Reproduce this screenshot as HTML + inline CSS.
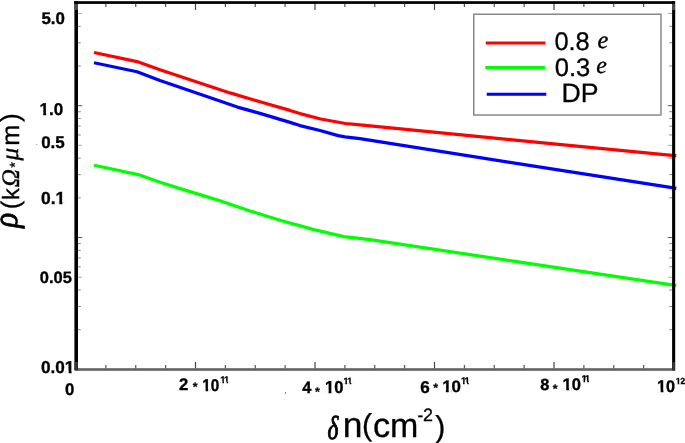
<!DOCTYPE html>
<html><head><meta charset="utf-8">
<style>
html,body{margin:0;padding:0;background:#fff;overflow:hidden;}
svg{display:block;}
text{text-rendering:geometricPrecision;}
</style></head>
<body>
<svg width="685" height="443" viewBox="0 0 685 443">
<rect x="0" y="0" width="685" height="443" fill="#fff"/>
<line x1="105.88" y1="3.5" x2="105.88" y2="7" stroke="#555" stroke-width="1.2"/>
<line x1="105.88" y1="368.5" x2="105.88" y2="365" stroke="#555" stroke-width="1.2"/>
<line x1="135.75" y1="3.5" x2="135.75" y2="7" stroke="#555" stroke-width="1.2"/>
<line x1="135.75" y1="368.5" x2="135.75" y2="365" stroke="#555" stroke-width="1.2"/>
<line x1="165.62" y1="3.5" x2="165.62" y2="7" stroke="#555" stroke-width="1.2"/>
<line x1="165.62" y1="368.5" x2="165.62" y2="365" stroke="#555" stroke-width="1.2"/>
<line x1="195.50" y1="3.5" x2="195.50" y2="10" stroke="#444" stroke-width="1.2"/>
<line x1="195.50" y1="368.5" x2="195.50" y2="362" stroke="#444" stroke-width="1.2"/>
<line x1="225.38" y1="3.5" x2="225.38" y2="7" stroke="#555" stroke-width="1.2"/>
<line x1="225.38" y1="368.5" x2="225.38" y2="365" stroke="#555" stroke-width="1.2"/>
<line x1="255.25" y1="3.5" x2="255.25" y2="7" stroke="#555" stroke-width="1.2"/>
<line x1="255.25" y1="368.5" x2="255.25" y2="365" stroke="#555" stroke-width="1.2"/>
<line x1="285.12" y1="3.5" x2="285.12" y2="7" stroke="#555" stroke-width="1.2"/>
<line x1="285.12" y1="368.5" x2="285.12" y2="365" stroke="#555" stroke-width="1.2"/>
<line x1="315.00" y1="3.5" x2="315.00" y2="10" stroke="#444" stroke-width="1.2"/>
<line x1="315.00" y1="368.5" x2="315.00" y2="362" stroke="#444" stroke-width="1.2"/>
<line x1="344.88" y1="3.5" x2="344.88" y2="7" stroke="#555" stroke-width="1.2"/>
<line x1="344.88" y1="368.5" x2="344.88" y2="365" stroke="#555" stroke-width="1.2"/>
<line x1="374.75" y1="3.5" x2="374.75" y2="7" stroke="#555" stroke-width="1.2"/>
<line x1="374.75" y1="368.5" x2="374.75" y2="365" stroke="#555" stroke-width="1.2"/>
<line x1="404.62" y1="3.5" x2="404.62" y2="7" stroke="#555" stroke-width="1.2"/>
<line x1="404.62" y1="368.5" x2="404.62" y2="365" stroke="#555" stroke-width="1.2"/>
<line x1="434.50" y1="3.5" x2="434.50" y2="10" stroke="#444" stroke-width="1.2"/>
<line x1="434.50" y1="368.5" x2="434.50" y2="362" stroke="#444" stroke-width="1.2"/>
<line x1="464.38" y1="3.5" x2="464.38" y2="7" stroke="#555" stroke-width="1.2"/>
<line x1="464.38" y1="368.5" x2="464.38" y2="365" stroke="#555" stroke-width="1.2"/>
<line x1="494.25" y1="3.5" x2="494.25" y2="7" stroke="#555" stroke-width="1.2"/>
<line x1="494.25" y1="368.5" x2="494.25" y2="365" stroke="#555" stroke-width="1.2"/>
<line x1="524.12" y1="3.5" x2="524.12" y2="7" stroke="#555" stroke-width="1.2"/>
<line x1="524.12" y1="368.5" x2="524.12" y2="365" stroke="#555" stroke-width="1.2"/>
<line x1="554.00" y1="3.5" x2="554.00" y2="10" stroke="#444" stroke-width="1.2"/>
<line x1="554.00" y1="368.5" x2="554.00" y2="362" stroke="#444" stroke-width="1.2"/>
<line x1="583.88" y1="3.5" x2="583.88" y2="7" stroke="#555" stroke-width="1.2"/>
<line x1="583.88" y1="368.5" x2="583.88" y2="365" stroke="#555" stroke-width="1.2"/>
<line x1="613.75" y1="3.5" x2="613.75" y2="7" stroke="#555" stroke-width="1.2"/>
<line x1="613.75" y1="368.5" x2="613.75" y2="365" stroke="#555" stroke-width="1.2"/>
<line x1="643.62" y1="3.5" x2="643.62" y2="7" stroke="#555" stroke-width="1.2"/>
<line x1="643.62" y1="368.5" x2="643.62" y2="365" stroke="#555" stroke-width="1.2"/>
<line x1="78" y1="329.71" x2="80.8" y2="329.71" stroke="#888" stroke-width="1"/>
<line x1="672" y1="329.71" x2="669.2" y2="329.71" stroke="#888" stroke-width="1"/>
<line x1="78" y1="306.49" x2="80.8" y2="306.49" stroke="#888" stroke-width="1"/>
<line x1="672" y1="306.49" x2="669.2" y2="306.49" stroke="#888" stroke-width="1"/>
<line x1="78" y1="290.02" x2="80.8" y2="290.02" stroke="#888" stroke-width="1"/>
<line x1="672" y1="290.02" x2="669.2" y2="290.02" stroke="#888" stroke-width="1"/>
<line x1="78" y1="277.24" x2="82.0" y2="277.24" stroke="#aaa" stroke-width="1"/>
<line x1="672" y1="277.24" x2="668.0" y2="277.24" stroke="#aaa" stroke-width="1"/>
<line x1="78" y1="266.80" x2="80.8" y2="266.80" stroke="#888" stroke-width="1"/>
<line x1="672" y1="266.80" x2="669.2" y2="266.80" stroke="#888" stroke-width="1"/>
<line x1="78" y1="257.97" x2="80.8" y2="257.97" stroke="#888" stroke-width="1"/>
<line x1="672" y1="257.97" x2="669.2" y2="257.97" stroke="#888" stroke-width="1"/>
<line x1="78" y1="250.33" x2="80.8" y2="250.33" stroke="#888" stroke-width="1"/>
<line x1="672" y1="250.33" x2="669.2" y2="250.33" stroke="#888" stroke-width="1"/>
<line x1="78" y1="243.58" x2="80.8" y2="243.58" stroke="#888" stroke-width="1"/>
<line x1="672" y1="243.58" x2="669.2" y2="243.58" stroke="#888" stroke-width="1"/>
<line x1="78" y1="237.55" x2="82.2" y2="237.55" stroke="#555" stroke-width="1"/>
<line x1="672" y1="237.55" x2="667.8" y2="237.55" stroke="#555" stroke-width="1"/>
<line x1="78" y1="197.86" x2="80.8" y2="197.86" stroke="#888" stroke-width="1"/>
<line x1="672" y1="197.86" x2="669.2" y2="197.86" stroke="#888" stroke-width="1"/>
<line x1="78" y1="174.64" x2="80.8" y2="174.64" stroke="#888" stroke-width="1"/>
<line x1="672" y1="174.64" x2="669.2" y2="174.64" stroke="#888" stroke-width="1"/>
<line x1="78" y1="158.17" x2="80.8" y2="158.17" stroke="#888" stroke-width="1"/>
<line x1="672" y1="158.17" x2="669.2" y2="158.17" stroke="#888" stroke-width="1"/>
<line x1="78" y1="145.39" x2="82.0" y2="145.39" stroke="#aaa" stroke-width="1"/>
<line x1="672" y1="145.39" x2="668.0" y2="145.39" stroke="#aaa" stroke-width="1"/>
<line x1="78" y1="134.95" x2="80.8" y2="134.95" stroke="#888" stroke-width="1"/>
<line x1="672" y1="134.95" x2="669.2" y2="134.95" stroke="#888" stroke-width="1"/>
<line x1="78" y1="126.12" x2="80.8" y2="126.12" stroke="#888" stroke-width="1"/>
<line x1="672" y1="126.12" x2="669.2" y2="126.12" stroke="#888" stroke-width="1"/>
<line x1="78" y1="118.48" x2="80.8" y2="118.48" stroke="#888" stroke-width="1"/>
<line x1="672" y1="118.48" x2="669.2" y2="118.48" stroke="#888" stroke-width="1"/>
<line x1="78" y1="111.73" x2="80.8" y2="111.73" stroke="#888" stroke-width="1"/>
<line x1="672" y1="111.73" x2="669.2" y2="111.73" stroke="#888" stroke-width="1"/>
<line x1="78" y1="105.70" x2="82.2" y2="105.70" stroke="#555" stroke-width="1"/>
<line x1="672" y1="105.70" x2="667.8" y2="105.70" stroke="#555" stroke-width="1"/>
<line x1="78" y1="66.01" x2="80.8" y2="66.01" stroke="#888" stroke-width="1"/>
<line x1="672" y1="66.01" x2="669.2" y2="66.01" stroke="#888" stroke-width="1"/>
<line x1="78" y1="42.79" x2="80.8" y2="42.79" stroke="#888" stroke-width="1"/>
<line x1="672" y1="42.79" x2="669.2" y2="42.79" stroke="#888" stroke-width="1"/>
<line x1="78" y1="26.32" x2="80.8" y2="26.32" stroke="#888" stroke-width="1"/>
<line x1="672" y1="26.32" x2="669.2" y2="26.32" stroke="#888" stroke-width="1"/>
<line x1="78" y1="13.54" x2="82.0" y2="13.54" stroke="#aaa" stroke-width="1"/>
<line x1="672" y1="13.54" x2="668.0" y2="13.54" stroke="#aaa" stroke-width="1"/>
<polyline points="94,52.5 137,61.6 160,69.8 230,92.9 260,101.8 290,110.4 300,113.6 320.7,119 345.5,123.5 355,124.4 510,139.7 672,155.3 676.3,155.7" fill="none" stroke="#ff0000" stroke-width="3.2" stroke-linejoin="round" stroke-linecap="butt"/>
<polyline points="94,62.8 137,71.8 160,80.5 237.4,107.1 260,113.4 290,122.4 300,125.6 320,130.5 338.2,135.6 345,136.8 360,138.7 510,162.4 672,187.7 676.3,188.4" fill="none" stroke="#0000ff" stroke-width="3.2" stroke-linejoin="round" stroke-linecap="butt"/>
<polyline points="94.1,165.2 138.2,174.6 160,182.3 190,191.6 220,200.8 250,210.9 280,220.3 314,229.6 343.8,236.6 355,237.8 370,239.6 510,260.6 580,271.2 640,280.1 672,284.9 676.3,285.5" fill="none" stroke="#00ff00" stroke-width="3.2" stroke-linejoin="round" stroke-linecap="butt"/>
<rect x="78" y="368.2" width="594" height="2.6" fill="#626262"/>
<rect x="74" y="1.2" width="601" height="2.7" fill="#000"/>
<rect x="74.4" y="1.2" width="3.6" height="369.4" fill="#000"/>
<rect x="672.1" y="1.2" width="3.1" height="369.5" fill="#000"/>
<rect x="74.4" y="3.9" width="3.6" height="6" fill="#4a4a4a"/>
<rect x="672" y="4" width="3" height="6" fill="#4a4a4a"/>
<rect x="74.5" y="362" width="3.2" height="8" fill="#3a3a3a"/>
<rect x="672.4" y="362" width="2.4" height="8" fill="#3a3a3a"/>

<rect x="473.75" y="14.25" width="187.25" height="100.75" fill="none" stroke="#888" stroke-width="1.5"/>
<ellipse cx="285.5" cy="393.1" rx="0.6" ry="1" fill="#777"/>
<ellipse cx="36.6" cy="144.5" rx="0.9" ry="0.5" fill="#aaa"/>
<line x1="485.8" y1="42.9" x2="545.4" y2="42.9" stroke="#ff0000" stroke-width="3"/>
<line x1="485.3" y1="67.6" x2="544.9" y2="67.6" stroke="#00ff00" stroke-width="3"/>
<line x1="486.7" y1="94.2" x2="546.3" y2="94.2" stroke="#0000ff" stroke-width="3"/>
<g style="filter:grayscale(1)">
<g transform="translate(41.38,24.24)"><text style="font-family:'Liberation Sans',sans-serif;font-weight:bold;font-style:normal;font-size:16.89px" fill="#000" stroke="#000" stroke-width="0.35">5.0</text></g>
<g transform="translate(39.53,114.73)"><text style="font-family:'Liberation Sans',sans-serif;font-weight:bold;font-style:normal;font-size:17.05px" fill="#000" stroke="#000" stroke-width="0.35">1.0</text><rect x="0.42" y="-2.16" width="3.29" height="3.36" fill="#fff"/><rect x="6.62" y="-2.16" width="2.83" height="3.36" fill="#fff"/></g>
<g transform="translate(41.13,148.33)"><text style="font-family:'Liberation Sans',sans-serif;font-weight:bold;font-style:normal;font-size:16.94px" fill="#000" stroke="#000" stroke-width="0.35">0.5</text></g>
<g transform="translate(41.01,204.33)"><text style="font-family:'Liberation Sans',sans-serif;font-weight:bold;font-style:normal;font-size:17.43px" fill="#000" stroke="#000" stroke-width="0.35">0.1</text><rect x="14.96" y="-2.21" width="3.36" height="3.41" fill="#fff"/><rect x="21.30" y="-2.21" width="2.89" height="3.41" fill="#fff"/></g>
<g transform="translate(39.75,283.34)"><text style="font-family:'Liberation Sans',sans-serif;font-weight:bold;font-style:normal;font-size:16.49px" fill="#000" stroke="#000" stroke-width="0.35">0.05</text></g>
<g transform="translate(41.02,372.73)"><text style="font-family:'Liberation Sans',sans-serif;font-weight:bold;font-style:normal;font-size:17.17px" fill="#000" stroke="#000" stroke-width="0.35">0.01</text><rect x="24.29" y="-2.18" width="3.31" height="3.38" fill="#fff"/><rect x="30.54" y="-2.18" width="2.85" height="3.38" fill="#fff"/></g>
<g transform="translate(65.04,395.14)"><text style="font-family:'Liberation Sans',sans-serif;font-weight:bold;font-style:normal;font-size:16.78px" fill="#000" stroke="#000" stroke-width="0.35">0</text></g>
<g transform="translate(179.12,389.60)"><text style="font-family:'Liberation Sans',sans-serif;font-weight:bold;font-style:normal;font-size:16.72px" fill="#000" stroke="#000" stroke-width="0.35">2</text></g>
<g transform="translate(192.81,391.07)"><text style="font-family:'Liberation Sans',sans-serif;font-weight:bold;font-style:normal;font-size:12.41px" fill="#000" stroke="#000" stroke-width="0.25">*</text></g>
<g transform="translate(202.26,390.73) scale(0.893,1)"><text style="font-family:'Liberation Sans',sans-serif;font-weight:bold;font-style:normal;font-size:17.09px" fill="#000" stroke="#000" stroke-width="0.39">10</text><rect x="0.42" y="-2.17" width="3.30" height="3.37" fill="#fff"/><rect x="6.63" y="-2.17" width="2.84" height="3.37" fill="#fff"/></g>
<g transform="translate(220.35,382.80)"><text style="font-family:'Liberation Sans',sans-serif;font-weight:bold;font-style:normal;font-size:9.45px;letter-spacing:-1.11px" fill="#000" stroke="#000" stroke-width="0.30">11</text><rect x="0.23" y="-1.20" width="1.82" height="2.40" fill="#fff"/><rect x="3.67" y="-1.20" width="1.57" height="2.40" fill="#fff"/><rect x="4.38" y="-1.20" width="1.82" height="2.40" fill="#fff"/><rect x="7.81" y="-1.20" width="1.57" height="2.40" fill="#fff"/></g>
<g transform="translate(302.15,393.10)"><text style="font-family:'Liberation Sans',sans-serif;font-weight:bold;font-style:normal;font-size:16.38px" fill="#000" stroke="#000" stroke-width="0.35">4</text></g>
<g transform="translate(315.01,395.77)"><text style="font-family:'Liberation Sans',sans-serif;font-weight:bold;font-style:normal;font-size:12.41px" fill="#000" stroke="#000" stroke-width="0.25">*</text></g>
<g transform="translate(324.97,392.63) scale(0.953,1)"><text style="font-family:'Liberation Sans',sans-serif;font-weight:bold;font-style:normal;font-size:17.37px" fill="#000" stroke="#000" stroke-width="0.37">10</text><rect x="0.42" y="-2.21" width="3.35" height="3.41" fill="#fff"/><rect x="6.74" y="-2.21" width="2.88" height="3.41" fill="#fff"/></g>
<g transform="translate(343.48,384.30)"><text style="font-family:'Liberation Sans',sans-serif;font-weight:bold;font-style:normal;font-size:9.01px;letter-spacing:-0.74px" fill="#000" stroke="#000" stroke-width="0.30">11</text><rect x="0.22" y="-1.14" width="1.74" height="2.34" fill="#fff"/><rect x="3.50" y="-1.14" width="1.50" height="2.34" fill="#fff"/><rect x="4.50" y="-1.14" width="1.74" height="2.34" fill="#fff"/><rect x="7.77" y="-1.14" width="1.50" height="2.34" fill="#fff"/></g>
<g transform="translate(420.17,393.23)"><text style="font-family:'Liberation Sans',sans-serif;font-weight:bold;font-style:normal;font-size:17.10px" fill="#000" stroke="#000" stroke-width="0.35">6</text></g>
<g transform="translate(433.31,392.47)"><text style="font-family:'Liberation Sans',sans-serif;font-weight:bold;font-style:normal;font-size:12.41px" fill="#000" stroke="#000" stroke-width="0.25">*</text></g>
<g transform="translate(442.14,391.94) scale(1.035,1)"><text style="font-family:'Liberation Sans',sans-serif;font-weight:bold;font-style:normal;font-size:16.38px" fill="#000" stroke="#000" stroke-width="0.34">10</text><rect x="0.40" y="-2.08" width="3.16" height="3.28" fill="#fff"/><rect x="6.36" y="-2.08" width="2.72" height="3.28" fill="#fff"/></g>
<g transform="translate(460.95,383.90)"><text style="font-family:'Liberation Sans',sans-serif;font-weight:bold;font-style:normal;font-size:9.45px;letter-spacing:-1.11px" fill="#000" stroke="#000" stroke-width="0.30">11</text><rect x="0.23" y="-1.20" width="1.82" height="2.40" fill="#fff"/><rect x="3.67" y="-1.20" width="1.57" height="2.40" fill="#fff"/><rect x="4.38" y="-1.20" width="1.82" height="2.40" fill="#fff"/><rect x="7.81" y="-1.20" width="1.57" height="2.40" fill="#fff"/></g>
<g transform="translate(540.28,389.54)"><text style="font-family:'Liberation Sans',sans-serif;font-weight:bold;font-style:normal;font-size:16.29px" fill="#000" stroke="#000" stroke-width="0.35">8</text></g>
<g transform="translate(552.81,392.72)"><text style="font-family:'Liberation Sans',sans-serif;font-weight:bold;font-style:normal;font-size:12.41px" fill="#000" stroke="#000" stroke-width="0.25">*</text></g>
<g transform="translate(562.57,389.54) scale(0.985,1)"><text style="font-family:'Liberation Sans',sans-serif;font-weight:bold;font-style:normal;font-size:16.81px" fill="#000" stroke="#000" stroke-width="0.36">10</text><rect x="0.41" y="-2.13" width="3.24" height="3.33" fill="#fff"/><rect x="6.52" y="-2.13" width="2.79" height="3.33" fill="#fff"/></g>
<g transform="translate(581.43,381.70)"><text style="font-family:'Liberation Sans',sans-serif;font-weight:bold;font-style:normal;font-size:9.74px;letter-spacing:-1.66px" fill="#000" stroke="#000" stroke-width="0.30">11</text><rect x="0.24" y="-1.24" width="1.88" height="2.44" fill="#fff"/><rect x="3.78" y="-1.24" width="1.62" height="2.44" fill="#fff"/><rect x="3.99" y="-1.24" width="1.88" height="2.44" fill="#fff"/><rect x="7.54" y="-1.24" width="1.62" height="2.44" fill="#fff"/></g>
<g transform="translate(657.09,391.63) scale(0.959,1)"><text style="font-family:'Liberation Sans',sans-serif;font-weight:bold;font-style:normal;font-size:16.95px" fill="#000" stroke="#000" stroke-width="0.37">10</text><rect x="0.41" y="-2.15" width="3.27" height="3.35" fill="#fff"/><rect x="6.58" y="-2.15" width="2.81" height="3.35" fill="#fff"/></g>
<g transform="translate(675.79,383.60)"><text style="font-family:'Liberation Sans',sans-serif;font-weight:bold;font-style:normal;font-size:8.88px;letter-spacing:-0.41px" fill="#000" stroke="#000" stroke-width="0.30">12</text><rect x="0.22" y="-1.13" width="1.71" height="2.33" fill="#fff"/><rect x="3.45" y="-1.13" width="1.47" height="2.33" fill="#fff"/></g>
<g transform="translate(327.51,439.38) scale(0.705,1)"><text style="font-family:'Liberation Serif',serif;font-weight:normal;font-style:italic;font-size:33.17px" fill="#000" stroke="#000" stroke-width="0.99">δ</text></g>
<g transform="translate(342.65,437.30)"><text style="font-family:'Liberation Sans',sans-serif;font-weight:normal;font-style:normal;font-size:35.38px" fill="#000" stroke="#000" stroke-width="0.30">n</text></g>
<g transform="translate(362.02,434.93)"><text style="font-family:'Liberation Sans',sans-serif;font-weight:normal;font-style:normal;font-size:30.27px" fill="#000" stroke="#000" stroke-width="0.30">(</text></g>
<g transform="translate(372.94,437.36)"><text style="font-family:'Liberation Sans',sans-serif;font-weight:normal;font-style:normal;font-size:34.35px" fill="#000" stroke="#000" stroke-width="0.30">c</text></g>
<g transform="translate(389.94,437.30)"><text style="font-family:'Liberation Sans',sans-serif;font-weight:normal;font-style:normal;font-size:33.99px" fill="#000" stroke="#000" stroke-width="0.30">m</text></g>
<g transform="translate(417.54,420.80)"><text style="font-family:'Liberation Sans',sans-serif;font-weight:normal;font-style:normal;font-size:17.20px" fill="#000" stroke="#000" stroke-width="0.30">-</text></g>
<g transform="translate(422.90,420.50)"><text style="font-family:'Liberation Sans',sans-serif;font-weight:normal;font-style:normal;font-size:17.89px" fill="#000" stroke="#000" stroke-width="0.30">2</text></g>
<g transform="translate(435.32,437.23)"><text style="font-family:'Liberation Sans',sans-serif;font-weight:normal;font-style:normal;font-size:30.27px" fill="#000" stroke="#000" stroke-width="0.30">)</text></g>
<g transform="translate(554.41,49.95)"><text style="font-family:'Liberation Sans',sans-serif;font-weight:normal;font-style:normal;font-size:25.44px" fill="#000" stroke="#000" stroke-width="0.30">0.8</text></g>
<g transform="translate(597.45,48.36)"><text style="font-family:'Liberation Serif',serif;font-weight:normal;font-style:italic;font-size:24.42px" fill="#000" stroke="#000" stroke-width="0.35">e</text></g>
<g transform="translate(554.70,75.55)"><text style="font-family:'Liberation Sans',sans-serif;font-weight:normal;font-style:normal;font-size:25.54px" fill="#000" stroke="#000" stroke-width="0.30">0.3</text></g>
<g transform="translate(596.26,72.97)"><text style="font-family:'Liberation Serif',serif;font-weight:normal;font-style:italic;font-size:23.96px" fill="#000" stroke="#000" stroke-width="0.35">e</text></g>
<g transform="translate(561.51,101.50)"><text style="font-family:'Liberation Sans',sans-serif;font-weight:normal;font-style:normal;font-size:26.65px" fill="#000" stroke="#000" stroke-width="0.30">DP</text></g>
<g transform="translate(0,230.0) rotate(-90)"><g transform="translate(2.29,17.10) scale(0.897,1)"><text style="font-family:'Liberation Serif',serif;font-weight:normal;font-style:italic;font-size:34.74px" fill="#000" stroke="#000" stroke-width="0.78">ρ</text></g>
<g transform="translate(20.81,19.19)"><text style="font-family:'Liberation Sans',sans-serif;font-weight:normal;font-style:normal;font-size:25.65px" fill="#000" stroke="#000" stroke-width="0.25">(</text></g>
<g transform="translate(30.11,19.00)"><text style="font-family:'Liberation Sans',sans-serif;font-weight:normal;font-style:normal;font-size:23.62px" fill="#000" stroke="#000" stroke-width="0.30">k</text></g>
<g transform="translate(42.86,19.00)"><text style="font-family:'Liberation Serif',serif;font-weight:normal;font-style:italic;font-size:25.16px" fill="#000" stroke="#000" stroke-width="0.35">Ω</text></g>
<g transform="translate(62.36,20.09)"><text style="font-family:'Liberation Sans',sans-serif;font-weight:normal;font-style:normal;font-size:14.81px" fill="#000" stroke="#000" stroke-width="0.30">*</text></g>
<g transform="translate(69.52,18.29)"><text style="font-family:'Liberation Serif',serif;font-weight:normal;font-style:italic;font-size:25.29px" fill="#000" stroke="#000" stroke-width="0.35">μ</text></g>
<g transform="translate(84.13,18.70)"><text style="font-family:'Liberation Sans',sans-serif;font-weight:normal;font-style:normal;font-size:25.20px" fill="#000" stroke="#000" stroke-width="0.30">m</text></g>
<g transform="translate(107.95,19.28)"><text style="font-family:'Liberation Sans',sans-serif;font-weight:normal;font-style:normal;font-size:26.19px" fill="#000" stroke="#000" stroke-width="0.30">)</text></g></g>
</g>
</svg>
</body></html>
